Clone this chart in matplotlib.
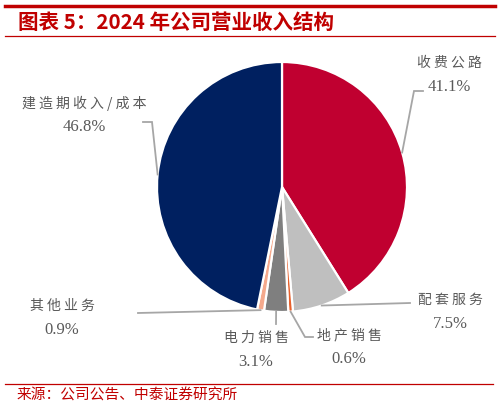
import numpy as np
import matplotlib
matplotlib.use("Agg")
import matplotlib.pyplot as plt
from matplotlib.lines import Line2D

plt.rcParams['font.family'] = ['Noto Sans CJK SC', 'DejaVu Sans']

# data, clockwise from 12 o'clock
categories = ['收费公路', '配套服务', '地产销售', '电力销售', '其他业务', '建造期收入/成本']
shares = [41.1, 7.5, 0.6, 3.1, 0.9, 46.8]
colors = ['#C00030', '#BFBFBF', '#E8612C', '#7F7F7F', '#F5A98C', '#002060']

title = '图表 5：2024 年公司营业收入结构'
source = '来源：公司公告、中泰证券研究所'

W, H = 498, 407
RED = '#C00000'
GREY = '#595959'
LINE = '#A6A6A6'

fig = plt.figure(figsize=(W / 100, H / 100), dpi=100)

# pie axes: centre (282, 187) px, radius 125 px
cx, cy, r = 282, 187, 125
ax = fig.add_axes([(cx - r) / W, (H - cy - r) / H, 2 * r / W, 2 * r / H])
wedges, _ = ax.pie(shares, colors=colors, startangle=90, counterclock=False,
                   radius=1.0, wedgeprops=dict(edgecolor='white', linewidth=1.6))
ax.set_xlim(-1, 1)
ax.set_ylim(-1, 1)
ax.set_aspect('equal')
ax.axis('off')


def px(x, y):
    # pixel position -> pie data coords
    return (x - cx) / r, (cy - y) / r


# label placement (pixels): text centre, then leader route from wedge edge
label_pos = {
    '收费公路': (449, 63),
    '配套服务': (450, 300),
    '地产销售': (349, 335),
    '电力销售': (256, 338),
    '其他业务': (62, 306),
    '建造期收入/成本': (84, 103),
}
leader_route = {
    '收费公路': [(414, 91), (423, 91)],
    '配套服务': [(410, 303)],
    '地产销售': [(305, 337), (313, 337)],
    '电力销售': [(276, 324)],
    '其他业务': [(138, 313)],
    '建造期收入/成本': [(152, 122), (143, 122)],
}

for w, name, s in zip(wedges, categories, shares):
    ang = np.deg2rad((w.theta1 + w.theta2) / 2)
    x0, y0 = np.cos(ang) * 1.0, np.sin(ang) * 1.0
    pts = [(x0, y0)] + [px(*p) for p in leader_route[name]]
    xs, ys = zip(*pts)
    ax.plot(xs, ys, color=LINE, lw=1.3, clip_on=False, solid_joinstyle='miter')
    tx, ty = px(*label_pos[name])
    ax.text(tx, ty, ' '.join(name), ha='center', va='center', fontsize=10,
            color=GREY, clip_on=False)
    ax.text(tx, ty - 24 / r, f'{s:.1f}%', ha='center', va='center', fontsize=12,
            color=GREY, family=['Liberation Serif', 'DejaVu Serif'], clip_on=False)

# header and footer
fig.add_artist(Line2D([5 / W, 495 / W], [1 - 6 / H, 1 - 6 / H], color=RED, lw=2.5))
fig.add_artist(Line2D([5 / W, 495 / W], [1 - 36 / H, 1 - 36 / H], color=RED, lw=0.9))
fig.text(18 / W, 1 - 22 / H, title, ha='left', va='center', fontsize=14.8,
         color=RED, fontweight='bold')
fig.add_artist(Line2D([5 / W, 493 / W], [1 - 384 / H, 1 - 384 / H], color=RED, lw=0.9))
fig.text(17 / W, 1 - 396 / H, source, ha='left', va='center', fontsize=10.6, color=RED)

fig.savefig('out.png', dpi=100)
